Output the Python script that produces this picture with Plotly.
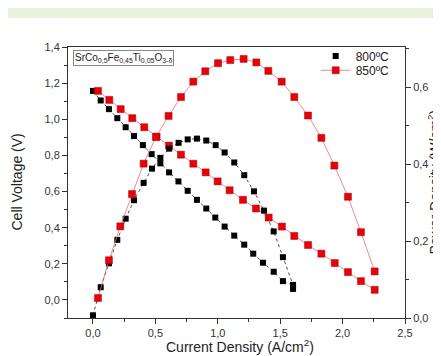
import plotly.graph_objects as go

# 800 °C: voltage curve
i800_v = [0.0, 0.062, 0.128, 0.195, 0.262, 0.329, 0.40, 0.47, 0.54, 0.61, 0.685, 0.759,
          0.833, 0.908, 0.98, 1.055, 1.132, 1.212, 1.284, 1.362, 1.448, 1.522, 1.603, 1.603]
v800 = [1.157, 1.104, 1.056, 1.006, 0.956, 0.907, 0.857, 0.807, 0.756, 0.706, 0.656, 0.604,
        0.554, 0.506, 0.456, 0.406, 0.356, 0.306, 0.256, 0.206, 0.156, 0.104, 0.080, 0.061]
# 800 °C: power curve
i800_p = [0.0, 0.062, 0.128, 0.195, 0.262, 0.329, 0.406, 0.473, 0.54, 0.611, 0.686, 0.759,
          0.833, 0.908, 0.983, 1.055, 1.132, 1.212, 1.29, 1.37, 1.448, 1.522, 1.603]
p800 = [0.007, 0.080, 0.142, 0.203, 0.258, 0.306, 0.351, 0.388, 0.416, 0.440, 0.455, 0.464,
        0.466, 0.461, 0.449, 0.430, 0.404, 0.371, 0.329, 0.279, 0.225, 0.158, 0.086]
# 850 °C: voltage curve
i850_v = [0.04, 0.131, 0.222, 0.315, 0.411, 0.51, 0.609, 0.705, 0.804, 0.903, 0.999, 1.095,
          1.202, 1.306, 1.408, 1.514, 1.613, 1.723, 1.83, 1.937, 2.043, 2.147, 2.257]
v850 = [1.157, 1.107, 1.056, 1.006, 0.956, 0.904, 0.854, 0.804, 0.754, 0.706, 0.656, 0.607,
        0.554, 0.506, 0.456, 0.406, 0.354, 0.304, 0.256, 0.204, 0.154, 0.104, 0.056]
# 850 °C: power curve
i850_p = [0.04, 0.128, 0.219, 0.313, 0.406, 0.505, 0.606, 0.705, 0.804, 0.90, 1.002, 1.10,
          1.207, 1.309, 1.405, 1.512, 1.613, 1.723, 1.83, 1.934, 2.043, 2.147, 2.257]
p850 = [0.052, 0.150, 0.238, 0.322, 0.401, 0.470, 0.525, 0.574, 0.614, 0.641, 0.662, 0.670,
        0.673, 0.664, 0.642, 0.614, 0.574, 0.526, 0.468, 0.396, 0.315, 0.223, 0.121]

labels = ["800ºC", "850ºC"]
x_ticks = [0.0, 0.5, 1.0, 1.5, 2.0, 2.5]
yl_ticks = [0.0, 0.2, 0.4, 0.6, 0.8, 1.0, 1.2, 1.4]
yr_ticks = [0.0, 0.2, 0.4, 0.6]

BLACK = "#000000"
RED = "#e8000b"
FONT = "Liberation Sans, Arial, sans-serif"

blk_marker = dict(symbol="square", size=6, color=BLACK)
red_marker = dict(symbol="square", size=7, color=RED, line=dict(color="#b00000", width=0.5))
blk_line = dict(color="#222222", width=0.8, dash="dot")
red_line = dict(color="#e07070", width=0.8)

fig = go.Figure()
fig.add_trace(go.Scatter(x=i800_v, y=v800, mode="lines+markers", marker=blk_marker,
                         line=blk_line, showlegend=False))
fig.add_trace(go.Scatter(x=i800_p, y=p800, mode="lines+markers", marker=blk_marker,
                         line=blk_line, showlegend=False, yaxis="y2"))
fig.add_trace(go.Scatter(x=i850_v, y=v850, mode="lines+markers", marker=red_marker,
                         line=red_line, showlegend=False))
fig.add_trace(go.Scatter(x=i850_p, y=p850, mode="lines+markers", marker=red_marker,
                         line=red_line, showlegend=False, yaxis="y2"))
# legend entries (two separate legends so they can sit close together)
fig.add_trace(go.Scatter(x=[None], y=[None], mode="markers", marker=blk_marker,
                         name=labels[0], legend="legend"))
fig.add_trace(go.Scatter(x=[None], y=[None], mode="lines+markers", marker=red_marker,
                         line=dict(color="#e07070", width=0.8), name=labels[1], legend="legend2"))

axis_common = dict(showline=True, linecolor="#333333", linewidth=1, ticks="outside",
                   ticklen=5, tickcolor="#333333", showgrid=False, zeroline=False,
                   tickfont=dict(size=11, color="#333333", family=FONT), tickformat=".1f")

leg_common = dict(xanchor="left", yanchor="middle", bgcolor="rgba(0,0,0,0)",
                  font=dict(size=12, family=FONT, color="#222222"), itemwidth=30,
                  borderwidth=0)

title_font = dict(size=14, family=FONT, color="#222222")

fig.update_layout(
    width=441, height=356,
    margin=dict(l=60, r=44, t=39, b=46),
    paper_bgcolor="white", plot_bgcolor="white",
    separators=",.",
    font=dict(family=FONT, color="#222222"),
    xaxis=dict(range=[-0.2, 2.5], tickvals=x_ticks, mirror=True,
               minor=dict(dtick=0.25, tick0=0, ticks="outside", ticklen=3, tickcolor="#333333"),
               **axis_common),
    yaxis=dict(range=[-0.1, 1.4], tickvals=yl_ticks,
               minor=dict(dtick=0.1, tick0=0, ticks="outside", ticklen=3, tickcolor="#333333"),
               **axis_common),
    yaxis2=dict(range=[0, 0.704], tickvals=yr_ticks, overlaying="y", side="right",
                minor=dict(dtick=0.1, tick0=0, ticks="outside", ticklen=3, tickcolor="#333333"),
                automargin=False,
                **axis_common),
    legend=dict(x=0.735, y=0.967, **leg_common),
    legend2=dict(x=0.735, y=0.914, **leg_common),
    shapes=[dict(type="rect", xref="paper", yref="paper", x0=-0.2, x1=1.2, y0=1.107, y1=1.16,
                 fillcolor="#e8f2dc", line=dict(width=0), layer="below")],
    annotations=[
        dict(text="SrCo<sub>0,5</sub>Fe<sub>0,45</sub>Ti<sub>0,05</sub>O<sub>3-δ</sub>",
             xref="paper", yref="paper", x=0.015, y=0.99, xanchor="left", yanchor="top",
             showarrow=False, font=dict(size=10, family=FONT, color="#222222"),
             bordercolor="#888888", borderwidth=1, borderpad=1, bgcolor="white"),
        dict(text="Cell Voltage (V)", textangle=-90,
             xref="paper", yref="paper", x=(8 - 60) / 337, y=0.5,
             xanchor="center", yanchor="middle", showarrow=False, font=title_font),
        dict(text="Current Density (A/cm<sup>2</sup>)",
             xref="paper", yref="paper", x=(232 - 60) / 337, y=1 - (338 - 39) / 271,
             xanchor="center", yanchor="middle", showarrow=False, font=title_font),
        dict(text="Power Density (W/cm<sup>2</sup>)", textangle=-90,
             xref="paper", yref="paper", x=(426 - 60) / 337, y=0.5,
             xanchor="center", yanchor="middle", showarrow=False, font=title_font),
    ],
)

fig.write_html("out.html")
